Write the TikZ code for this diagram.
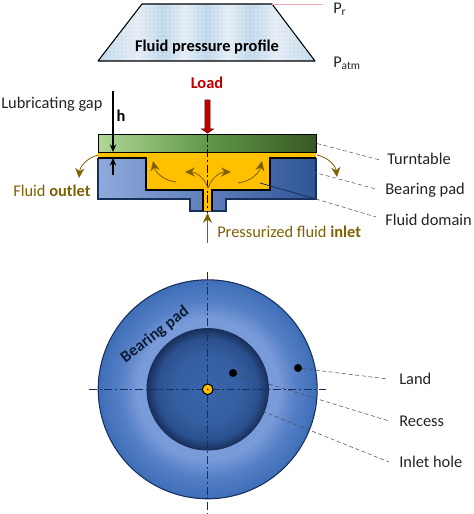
\documentclass[tikz,border=0pt]{standalone}
\usepackage{fontspec}
\setmainfont{Carlito}
\usetikzlibrary{arrows.meta,patterns,shapes.arrows}
\definecolor{brgreenl}{RGB}{178,214,150}
\definecolor{brgreenm}{RGB}{96,152,72}
\definecolor{brgreend}{RGB}{56,87,35}
\definecolor{brbluel}{RGB}{143,170,220}
\definecolor{brblued}{RGB}{47,85,151}
\definecolor{brblue}{RGB}{62,110,184}
\definecolor{brglow}{RGB}{122,155,218}
\definecolor{brnavy}{RGB}{24,48,92}
\definecolor{bryellow}{RGB}{255,192,0}
\definecolor{brbrown}{RGB}{127,96,0}
\definecolor{brred}{RGB}{192,0,0}
\definecolor{brpink}{RGB}{240,170,175}
\definecolor{brink}{RGB}{35,35,35}
\definecolor{brgrey}{RGB}{90,90,90}
\definecolor{brpale}{RGB}{228,236,244}
\definecolor{brband}{RGB}{190,215,235}
\newcommand{\brfont}{\fontsize{12.3}{14}\selectfont}
\pgfdeclarehorizontalshading{brprofile}{100bp}{
  color(0bp)=(brband); color(25bp)=(brband);
  color(34bp)=(brpale); color(40bp)=(brband); color(45bp)=(brpale);
  color(50bp)=(brband); color(55bp)=(brpale); color(60bp)=(brband);
  color(66bp)=(brpale); color(75bp)=(brband); color(100bp)=(brband)}
\pgfdeclareradialshading{brland}{\pgfpoint{0bp}{0bp}}{
  color(0bp)=(brglow); color(16bp)=(brglow); color(20bp)=(brblue!60!brglow);
  color(25bp)=(brblue); color(50bp)=(brblue)}
\pgfdeclareradialshading{brrecess}{\pgfpoint{0bp}{0bp}}{
  color(0bp)=(brblue!85!brnavy); color(14bp)=(brblue!75!brnavy); color(21bp)=(brblued!85!brnavy);
  color(25bp)=(brnavy); color(50bp)=(brnavy)}
\tikzset{
  brlabel/.style={font=\brfont, text=brink, inner sep=0pt},
  brhead/.style={font=\brfont\bfseries, inner sep=0pt},
  brnote/.style={font=\brfont, text=brbrown, inner sep=0pt},
  brplate/.style={draw=black, thick, left color=brgreenl, right color=brgreend, middle color=brgreenm, inner sep=0pt},
  brdisc/.style={circle, draw=brnavy, thick, inner sep=0pt},
  brdot/.style={circle, fill=black, minimum size=6pt, inner sep=0pt},
  brleader/.style={draw=brgrey, densely dashed, thin},
  brflow/.style={-{Stealth[length=2.6mm,width=2.4mm]}, semithick, draw=brbrown, bend angle=35},
  brgap/.style={-{Stealth[length=2mm,width=1.7mm]}, thick, draw=black},
  braxis/.style={draw=brnavy, semithick, dash pattern=on 6pt off 2pt on 1.5pt off 2pt}
}
\begin{document}
\begin{tikzpicture}[x=.75pt, y=-.75pt]
  \useasboundingbox (0,0) rectangle (474,514);
  \shade[shading=brprofile] (142,4) -- (272,4) -- (315,61) -- (98,61) -- cycle;
  \fill[pattern=dots, pattern color=white] (142,4) -- (272,4) -- (315,61) -- (98,61) -- cycle;
  \draw[thick, line join=round] (142,4) -- (272,4) -- (315,61) -- (98,61) -- cycle;
  \node[brhead, text=black] (profile) at (207,47) {Fluid pressure profile};
  \coordinate (ptop) at (272,4);
  \coordinate (pend) at (323,4);
  \draw[brpink, semithick] (ptop) -- (pend);
  \node[brlabel, anchor=west] (pr) at (333,9) {P\textsubscript{r}};
  \node[brlabel, anchor=west] (patm) at (333,63) {P\textsubscript{atm}};

  \shade[left color=brbluel, right color=brblued] (98,158) -- (316,158) -- (316,199) -- (226,199) -- (226,211) -- (190,211) -- (190,199) -- (98,199) -- cycle;
  \draw[thick, draw=brnavy] (98,158) -- (98,199) -- (190,199) -- (190,211) -- (226,211) -- (226,199) -- (316,199) -- (316,158);
  \fill[bryellow] (98,152) -- (316,152) -- (316,158) -- (270,158) -- (270,190) -- (212,190) -- (212,211) -- (203,211) -- (203,190) -- (146,190) -- (146,158) -- (98,158) -- cycle;
  \draw[very thick, line join=miter] (98,158) -- (146,158) -- (146,190) -- (203,190) -- (203,211);
  \draw[very thick, line join=miter] (316,158) -- (270,158) -- (270,190) -- (212,190) -- (212,211);
  \node[brplate, anchor=north west, minimum width=163.5pt, minimum height=13.5pt] (turntable) at (98,134) {};
  \draw[braxis, draw=black] (207.5,134) -- (207.5,213);

  \node[brhead, text=brred] (load) at (207,83) {Load};
  \node[single arrow, draw=brred!55!black, fill=brred, rotate=-90, anchor=east, minimum height=25pt, minimum width=9pt, single arrow head extend=1.5pt, single arrow tip angle=110, inner sep=1pt] (loadarrow) at (207.5,133.5) {};

  \node[brlabel, anchor=west] (gap) at (1,104) {Lubricating gap};
  \node[brhead, text=black] (hgap) at (121,116) {h};
  \coordinate (gaptop) at (113,91);
  \coordinate (gapbot) at (113,175);
  \coordinate (gapa) at (113,152);
  \coordinate (gapb) at (113,158);
  \draw[brgap] (gaptop) -- (gapa);
  \draw[brgap] (gapbot) -- (gapb);

  \coordinate (outl) at (98,155);
  \coordinate (outla) at (79,178);
  \coordinate (outr) at (317,155);
  \coordinate (outra) at (337,177);
  \coordinate (hole) at (208,188);
  \coordinate (flowa) at (185,172);
  \coordinate (flowb) at (231,172);
  \coordinate (flowc) at (176,182);
  \coordinate (flowd) at (153,161);
  \coordinate (flowe) at (238,183);
  \coordinate (flowf) at (262,161);
  \draw[brflow] (outl) to[bend right] (outla);
  \draw[brflow] (outr) to[bend left] (outra);
  \draw[brflow] (hole) to[bend right] (flowa);
  \draw[brflow] (hole) to[bend left] (flowb);
  \draw[brflow] (flowc) to[bend left] (flowd);
  \draw[brflow] (flowe) to[bend right] (flowf);
  \node[brnote, anchor=west] (outlet) at (13,191) {Fluid \textbf{outlet}};
  \node[brnote, anchor=west] (inlet) at (217,232) {Pressurized fluid \textbf{inlet}};
  \coordinate (inletend) at (207.5,243);
  \coordinate (inlettip) at (207.5,213);
  \draw[-{Stealth[length=2.6mm,width=2.4mm]}, very thick, draw=brbrown] (inletend) -- (inlettip);

  \node[brlabel, anchor=west] (lturn) at (387,159) {Turntable};
  \node[brlabel, anchor=west] (lpad) at (385,190) {Bearing pad};
  \node[brlabel, anchor=west] (ldomain) at (385,220) {Fluid domain};
  \coordinate (padpt) at (313,172);
  \coordinate (dompt) at (260,183);
  \coordinate (domedge) at (316,199);
  \coordinate (lturnend) at (380,160);
  \coordinate (lpadend) at (376,189);
  \coordinate (ldomainend) at (376,217);
  \draw[brleader] (turntable.east) -- (lturnend);
  \draw[brleader] (padpt) -- (lpadend);
  \draw[brnavy, semithick] (dompt) -- (domedge);
  \draw[brleader] (domedge) -- (ldomainend);

  \node[brdisc, shading=brland, minimum size=164.25pt] (land) at (207.7,389.3) {};
  \node[brdisc, shading=brrecess, minimum size=91pt] (recess) at (207.7,389.3) {};
  \coordinate (vtop) at (207.7,272);
  \coordinate (vbot) at (207.7,513);
  \coordinate (hleft) at (89,389.3);
  \coordinate (hright) at (326,389.3);
  \draw[braxis] (vtop) -- (vbot);
  \draw[braxis] (hleft) -- (hright);
  \node[brhead, text=brnavy!60!black, rotate=38] (padname) at (155,335) {Bearing pad};

  \node[brlabel, anchor=west] (lland) at (399,379) {Land};
  \node[brlabel, anchor=west] (lrecess) at (399,421) {Recess};
  \node[brlabel, anchor=west] (lhole) at (399,462) {Inlet hole};
  \coordinate (llandend) at (388,379);
  \coordinate (lrecessend) at (389,421);
  \coordinate (lholeend) at (389,462);
  \node[brdot] (dotland) at (298,368) {};
  \node[brdot] (dotrecess) at (233,373) {};
  \node[circle, draw=black, thick, fill=bryellow, minimum size=8pt, inner sep=0pt] (inhole) at (207.7,389.3) {};
  \node[circle, fill=brred, minimum size=1.5pt, inner sep=0pt] (inholec) at (207.7,389.3) {};
  \draw[brleader, draw=brgrey!70!brnavy] (dotland) -- (llandend);
  \draw[brleader, draw=brgrey!70!brnavy] (dotrecess) -- (lrecessend);
  \draw[brleader, draw=brgrey!70!brnavy] (inhole) -- (lholeend);
\end{tikzpicture}
\end{document}
